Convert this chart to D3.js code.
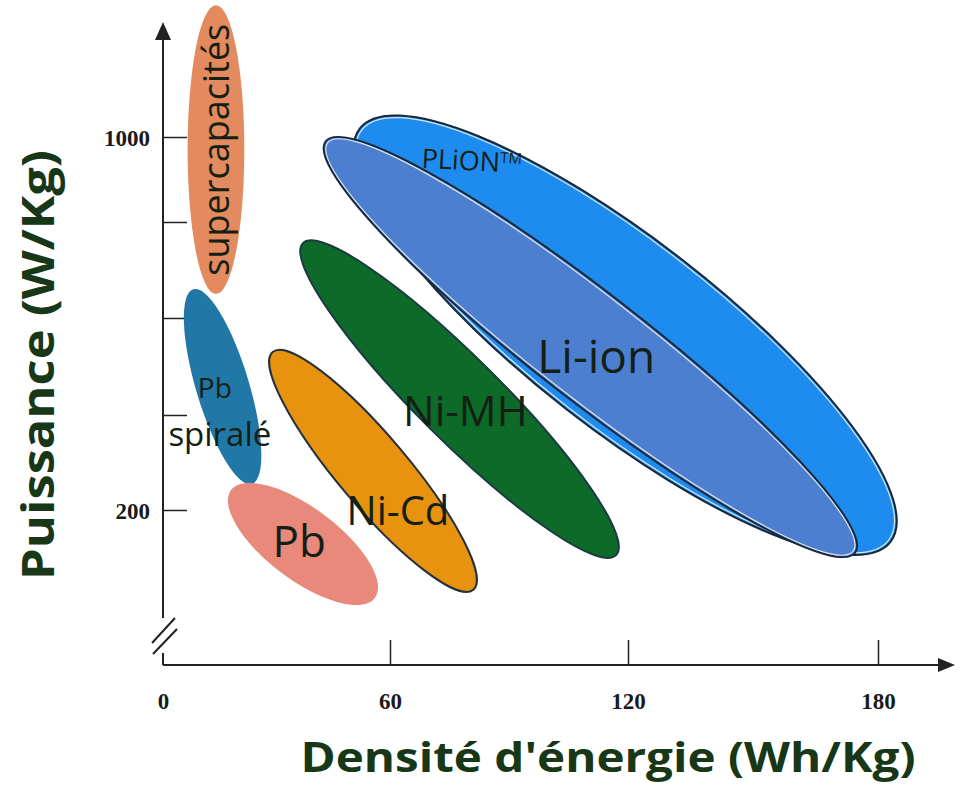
<!DOCTYPE html>
<html>
<head>
<meta charset="utf-8">
<script src="https://cdn.jsdelivr.net/npm/d3@7"></script>
<style>
  body { margin: 0; background: #fff; }
  .tick text { font-family: "Liberation Serif", "Times New Roman", serif; font-weight: bold; font-size: 23px; fill: #1a1a1a; }
  .tick line { stroke: #222; stroke-width: 1.5; }
</style>
</head>
<body>
<svg id="chart"></svg>
<script>
// Tick values of both axes
const energyTicks = [0, 60, 120, 180];
const powerTicks = [200, 400, 600, 800, 1000];
const powerLabels = [200, 1000];

// Each technology zone: high-power end -> high-energy end, plus zone width (Wh/kg)
const techs = ["supercapacités", "Pb spiralé", "Pb", "Ni-Cd", "Ni-MH", "PLiON", "Li-ion"];
const energyStart = [14, 8, 18, 29, 37, 52, 43];
const powerStart = [1310, 660, 242, 530, 756, 1020, 990];
const energyEnd = [14, 23.5, 56, 81, 117, 183, 174.5];
const powerEnd = [650, 255, 15, 32, 105, 133, 110];
const zoneWidth = [15, 14, 19, 18.5, 22, 50, 28.5];

// where the name of each zone sits
const labelEnergy = [14, 14.5, 36, 62, 79, 80.5, 112];
const labelPower = [970, 410, 133, 198, 408, 945, 520];

const svgWidth = 955;
const svgHeight = 787;

const svg = d3.select("#chart")
    .attr("width", svgWidth)
    .attr("height", svgHeight);

// the drawing is not quite regular, so the scales are calibrated on each tick
const x = d3.scaleLinear().domain(energyTicks).range([163, 390, 628, 878]);
const y = d3.scaleLinear().domain(powerTicks).range([510, 415, 318, 222, 137]);

const axisX = 163;   // y axis position
const axisY = 665;   // x axis position

const style = {
    "supercapacités": { fill: "#e38a5e", stroke: "none" },
    "Pb spiralé": { fill: "#2178a6", stroke: "none" },
    "Pb": { fill: "#e8897c", stroke: "none" },
    "Ni-Cd": { fill: "#e8930f", stroke: "#25313c" },
    "Ni-MH": { fill: "#0e6a29", stroke: "#1c3a44" },
    "PLiON": { fill: "#1e8cef", stroke: "#18283a" },
    "Li-ion": { fill: "#4c7fcf", stroke: "#18283a" }
};

// axes
const xAxis = d3.axisBottom(x)
    .tickValues(energyTicks)
    .tickSize(-25)
    .tickSizeOuter(0)
    .tickPadding(28);

const yAxis = d3.axisLeft(y)
    .tickValues(powerTicks)
    .tickSize(-24)
    .tickSizeOuter(0)
    .tickPadding(13)
    .tickFormat(d => powerLabels.includes(d) ? d : "");

const gx = svg.append("g")
    .attr("transform", `translate(0,${axisY})`)
    .call(xAxis);
gx.select(".domain").remove();
gx.selectAll(".tick").filter(d => d === 0).select("line").remove();

const gy = svg.append("g")
    .attr("transform", `translate(${axisX},0)`)
    .call(yAxis);
gy.select(".domain").remove();
gy.selectAll(".tick text").attr("dy", "0.38em");

// axis lines with break and arrows
const axisLines = svg.append("g").attr("stroke", "#222").attr("stroke-width", 2).attr("fill", "none");
axisLines.append("line").attr("x1", axisX).attr("y1", 36).attr("x2", axisX).attr("y2", 618);
axisLines.append("line").attr("x1", axisX).attr("y1", 653).attr("x2", axisX).attr("y2", axisY);
axisLines.append("line").attr("x1", axisX).attr("y1", axisY).attr("x2", 942).attr("y2", axisY);
axisLines.append("line").attr("x1", 152).attr("y1", 643).attr("x2", 175).attr("y2", 618);
axisLines.append("line").attr("x1", 153).attr("y1", 654).attr("x2", 177).attr("y2", 629);

svg.append("path")
    .attr("d", `M${axisX},22 L${axisX - 8},40 L${axisX + 8},40 Z`)
    .attr("fill", "#222");
svg.append("path")
    .attr("d", `M955,${axisY} L938,${axisY - 7} L938,${axisY + 7} Z`)
    .attr("fill", "#222");

// zones
const zones = techs.map((name, i) => {
    const x1 = x(energyStart[i]), y1 = y(powerStart[i]);
    const x2 = x(energyEnd[i]), y2 = y(powerEnd[i]);
    return {
        name,
        cx: (x1 + x2) / 2,
        cy: (y1 + y2) / 2,
        rx: Math.hypot(x2 - x1, y2 - y1) / 2,
        ry: (x(zoneWidth[i]) - x(0)) / 2,
        angle: Math.atan2(y2 - y1, x2 - x1) * 180 / Math.PI
    };
});

const zoneG = svg.append("g");
zones.forEach(z => {
    const g = zoneG.append("g")
        .attr("transform", `translate(${z.cx},${z.cy}) rotate(${z.angle})`);
    g.append("ellipse")
        .attr("rx", z.rx)
        .attr("ry", z.ry)
        .attr("fill", style[z.name].fill)
        .attr("stroke", style[z.name].stroke)
        .attr("stroke-width", 2);
    if (z.name === "Li-ion" || z.name === "PLiON") {
        g.append("ellipse")
            .attr("rx", z.rx - 2.5)
            .attr("ry", z.ry - 2.5)
            .attr("fill", "none")
            .attr("stroke", "#d8e4ee")
            .attr("stroke-width", 1.2);
    }
});

// zone names
const labelFont = "'Comic Sans MS', 'Open Sans', sans-serif";
const labelSize = { "supercapacités": 36, "Pb spiralé": 30, "Pb": 44, "Ni-Cd": 40, "Ni-MH": 42, "PLiON": 27, "Li-ion": 46 };

techs.forEach((name, i) => {
    const lx = x(labelEnergy[i]), ly = y(labelPower[i]);
    const t = svg.append("text")
        .attr("font-family", labelFont)
        .attr("font-size", labelSize[name])
        .attr("fill", "#142014")
        .attr("text-anchor", "middle");
    if (name === "supercapacités") {
        t.attr("transform", `translate(${lx + 13},${ly}) rotate(-90)`).text(name);
    } else if (name === "Pb spiralé") {
        t.append("tspan").attr("x", lx - 3).attr("y", ly - 12).attr("font-size", 28).text("Pb");
        t.append("tspan").attr("x", lx + 2).attr("y", ly + 36).attr("font-size", 33).text("spiralé");
    } else if (name === "PLiON") {
        t.attr("transform", `translate(${lx},${ly + 10}) rotate(3)`);
        t.append("tspan").text("PLiON");
        t.append("tspan").attr("font-size", 15).attr("dy", -9).text("TM");
    } else {
        t.attr("x", lx).attr("y", ly).attr("dy", "0.35em").text(name);
    }
});

// axis titles
svg.append("text")
    .attr("transform", `translate(54,365) rotate(-90)`)
    .attr("text-anchor", "middle")
    .attr("font-family", labelFont)
    .attr("font-weight", "bold")
    .attr("font-size", 44)
    .attr("fill", "#173717")
    .attr("textLength", 430)
    .attr("lengthAdjust", "spacingAndGlyphs")
    .text("Puissance (W/Kg)");

svg.append("text")
    .attr("x", 608)
    .attr("y", 772)
    .attr("text-anchor", "middle")
    .attr("font-family", labelFont)
    .attr("font-weight", "bold")
    .attr("font-size", 41)
    .attr("fill", "#173717")
    .attr("textLength", 615)
    .attr("lengthAdjust", "spacingAndGlyphs")
    .text("Densité d'énergie (Wh/Kg)");
</script>
</body>
</html>
